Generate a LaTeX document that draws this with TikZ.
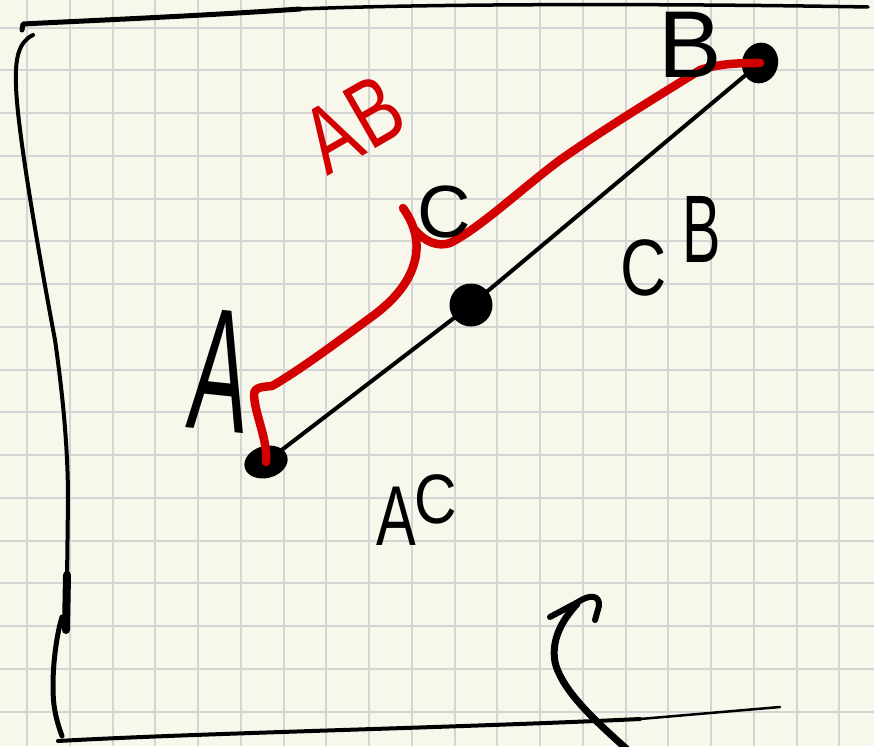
\documentclass[tikz,border=0pt]{standalone}
\usepackage{fontspec}
\setmainfont{Liberation Sans}
\usetikzlibrary{shapes.geometric}
\definecolor{paper}{RGB}{248,247,236}
\definecolor{gridc}{RGB}{212,212,212}
\definecolor{inkred}{RGB}{210,0,0}
\tikzset{
  ink/.style={draw=black, line width=#1, line cap=round, line join=round},
  redink/.style={draw=inkred, line width=#1, line cap=round, line join=round},
  dot/.style={fill=black, inner sep=0pt},
  hand/.style={inner sep=0pt, text=black},
}
\begin{document}
\begin{tikzpicture}[x=1pt,y=-1pt]
\fill[paper] (0,0) rectangle (874,746);
\useasboundingbox (0,0) rectangle (874,746);
% grid
\foreach \i in {0,...,19} \draw[gridc, line width=2pt] ({27+42.75*\i},0) -- ({27+42.75*\i},746);
\foreach \j in {0,...,16} \draw[gridc, line width=2pt] (0,{27.7+42.75*\j}) -- (874,{27.7+42.75*\j});

% frame strokes
\draw[ink=5pt] (22,30) -- (23,24) .. controls (80,21) and (200,16) .. (300,9);
\draw[ink=3.5pt] (300,9) .. controls (450,3) and (700,4) .. (868,7);
\draw[ink=4pt] (33,35) .. controls (18,42) and (15,60) .. (16,85) .. controls (17,130) and (40,260) .. (55,340) .. controls (65,410) and (68,460) .. (68,500) -- (67,580);
\draw[ink=8pt] (67,575) -- (66,630);
\draw[ink=5pt] (62,617) .. controls (55,640) and (51,680) .. (54,705) .. controls (56,720) and (60,730) .. (62,736);
\draw[ink=4pt] (58,741) .. controls (200,733) and (450,728) .. (640,719);
\draw[ink=2.5pt] (640,719) -- (780,707);

% arrow
\draw[ink=7pt] (630,752) .. controls (600,725) and (562,692) .. (555,662) .. controls (551,640) and (562,620) .. (577,604);
\draw[ink=6pt] (550,617) -- (578,602) .. controls (590,594) and (600,595) .. (599,606) -- (595,620);

% points and segment
\node[dot, ellipse, minimum width=44pt, minimum height=32pt, rotate=15] (dA) at (266,462) {};
\node[dot, circle, minimum size=43pt] (dC) at (471,305) {};
\node[dot, ellipse, minimum width=36pt, minimum height=41pt, rotate=-15] (dB) at (760,63) {};
\draw[ink=4pt] (dA.center) -- (dC.center) -- (dB.center);

% red path AB
\draw[redink=8.5pt] (dA.center) .. controls (268,440) and (255,415) .. (254,395) .. controls (254,387) and (262,387) .. (272,386) .. controls (300,370) and (340,340) .. (370,318) .. controls (395,300) and (412,280) .. (416,255) .. controls (418,240) and (415,225) .. (403,208);
\draw[redink=8.5pt] (415,230) .. controls (425,242) and (438,247) .. (450,243) .. controls (480,228) and (520,190) .. (560,160) .. controls (610,125) and (660,95) .. (700,70) .. controls (720,63) and (745,63) .. (dB.center);

% labels
\node[hand, rotate=-6, xscale=0.5, font=\fontsize{175}{175}\selectfont] (lA) at (221,371) {A};
\node[hand, font=\fontsize{95}{95}\selectfont] (lB) at (690,45) {B};
\node[hand, font=\fontsize{74}{74}\selectfont] (lC) at (444,212) {C};
\node[hand, anchor=base west, xscale=0.8, font=\fontsize{80}{80}\selectfont] (lCB) at (620,295) {C\hspace{20pt}\raisebox{33pt}{\fontsize{96}{96}\selectfont\scalebox{0.75}[1]{B}}};
\node[hand, anchor=base west, xscale=0.7, font=\fontsize{85}{85}\selectfont] (lAC) at (376,545) {A\kern-2pt\raisebox{22pt}{\fontsize{70}{70}\selectfont\scalebox{1.2}[1]{C}}};
\node[hand, text=inkred, rotate=30, xscale=0.75, font=\fontsize{95}{95}\selectfont] (lAB) at (353,124) {A\kern3pt B};
\end{tikzpicture}
\end{document}
